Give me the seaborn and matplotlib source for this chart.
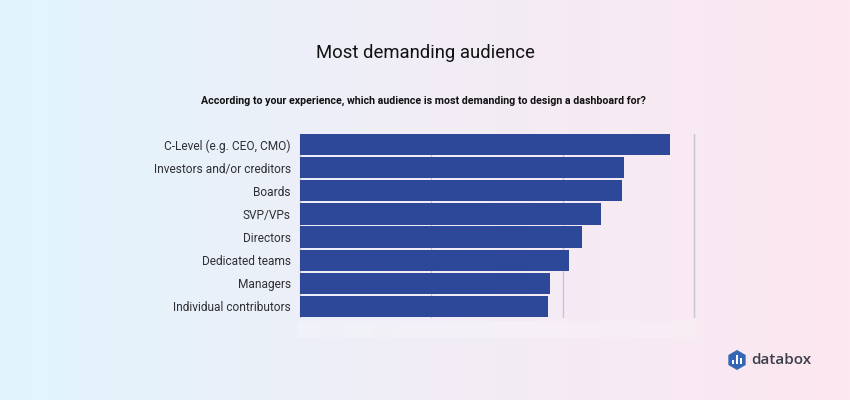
import numpy as np
import pandas as pd
import matplotlib
matplotlib.use("Agg")
import matplotlib.pyplot as plt
from matplotlib.colors import LinearSegmentedColormap
from matplotlib.patches import Rectangle, RegularPolygon
import seaborn as sns

# Values
audiences = ["C-Level (e.g. CEO, CMO)", "Investors and/or creditors", "Boards", "SVP/VPs",
             "Directors", "Dedicated teams", "Managers", "Individual contributors"]
shares = [28.2, 24.7, 24.5, 22.9, 21.5, 20.5, 19.0, 18.9]
x_ticks = [0, 10, 20, 30]

df = pd.DataFrame({"audience": audiences, "share": shares})

sns.set_theme(style="white")
plt.rcParams["font.family"] = ["Roboto", "DejaVu Sans"]

W, H = 850, 400
fig = plt.figure(figsize=(8.5, 4), dpi=100)

# -----------------------------
# Background gradient
# -----------------------------
bg = fig.add_axes([0, 0, 1, 1], zorder=0)
cmap = LinearSegmentedColormap.from_list("bg", ["#e1f5fd", "#f1edf6", "#fde7f0"])
bg.imshow(np.linspace(0, 1, 256).reshape(1, -1), aspect="auto", cmap=cmap, extent=[0, W, H, 0])
bg.set_xlim(0, W)
bg.set_ylim(H, 0)
bg.axis("off")

# faint strip under the bars
bg.add_patch(Rectangle((297, 321), 399, 17, color="white", alpha=0.22, lw=0))

# -----------------------------
# Bars
# -----------------------------
ax = fig.add_axes([300 / W, 1 - 317 / H, 394 / W, 183 / H], zorder=1)
ax.patch.set_alpha(0)
ax.set_axisbelow(True)
sns.barplot(data=df, x="share", y="audience", orient="h", color="#2d4898", saturation=1,
            width=0.92, linewidth=0, ax=ax)
ax.set_xlim(0, 30)
ax.set_ylim(7.46, -0.46)
ax.set_xticks(x_ticks)
ax.xaxis.grid(True, color="#c8c5d2", lw=1)
for line in ax.get_xgridlines():
    line.set_clip_on(False)
ax.tick_params(axis="x", length=0, labelbottom=False)
ax.tick_params(axis="y", length=0, pad=6.5, labelsize=8.6, labelcolor="#2f2f33")
ax.set_xlabel("")
ax.set_ylabel("")
sns.despine(ax=ax, left=True, bottom=True)

# -----------------------------
# Titles
# -----------------------------
fig.text(425 / W, 1 - 52.5 / H, "Most demanding audience", ha="center", va="center",
         fontsize=13.3, color="#111111")
fig.text(423.5 / W, 1 - 101 / H,
         "According to your experience, which audience is most demanding to design a dashboard for?",
         ha="center", va="center", fontsize=7.68, fontweight="bold", color="#111111")

# -----------------------------
# Logo
# -----------------------------
bg.add_patch(RegularPolygon((737, 360), 6, radius=10, color="#3565b5", lw=0))
bg.add_patch(Rectangle((732.5, 360), 1.8, 4, color="white", lw=0))
bg.add_patch(Rectangle((736.2, 355), 1.8, 9, color="white", lw=0))
bg.add_patch(Rectangle((739.9, 358), 1.8, 6, color="white", lw=0))
bg.text(751, 360, "databox", ha="left", va="center", fontsize=11, fontweight="semibold",
        color="#3b3f4a", family=["Open Sans", "DejaVu Sans"])

fig.savefig("out.png", dpi=100)
